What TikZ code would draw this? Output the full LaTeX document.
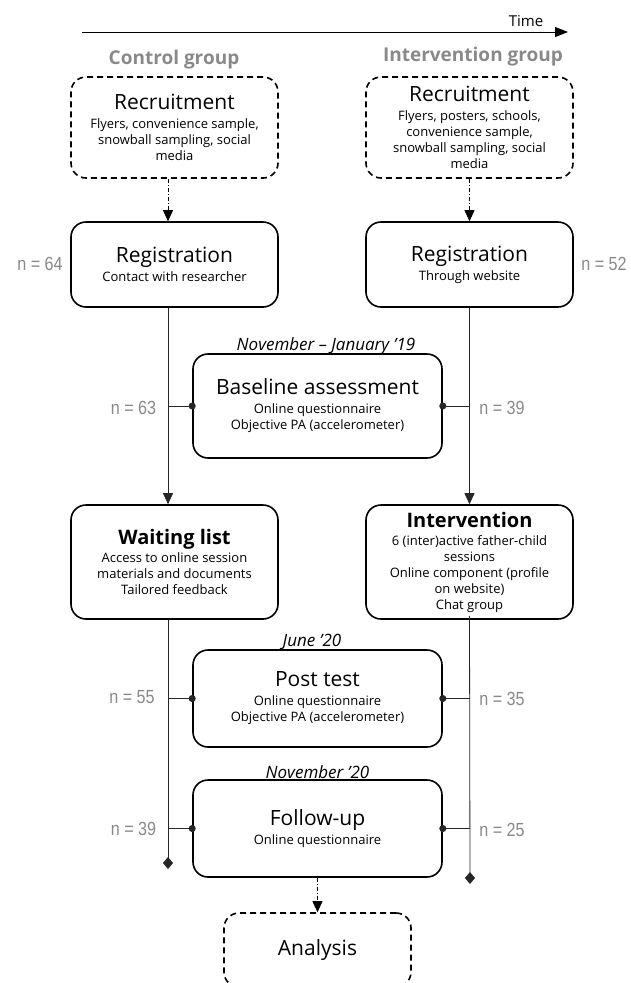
\documentclass[tikz,border=0pt]{standalone}
\usepackage{fontspec}
\setmainfont{Open Sans}
\newfontfamily\countfont[FakeStretch=0.85]{Liberation Sans}
\usetikzlibrary{arrows.meta}
\definecolor{groupgray}{RGB}{137,137,137}

\newcommand{\headline}[1]{{\fontsize{21}{25}\selectfont #1}\\[3pt]}
\newcommand{\boldline}[1]{{\fontsize{20}{24}\selectfont\bfseries #1}\\[2pt]}

\begin{document}
\begin{tikzpicture}[x=1pt,y=-1pt,
    stage/.style={draw, rounded corners=15pt, line width=1.6pt, align=center,
      inner sep=0pt, font=\fontsize{13}{16}\selectfont},
    plan/.style={stage, dash pattern=on 6pt off 4pt},
    group/.style={text=groupgray, font=\fontsize{19}{22}\selectfont\bfseries},
    count/.style={text=groupgray, font=\countfont\fontsize{19}{20}\selectfont},
    date/.style={font=\fontsize{17}{20}\selectfont\itshape},
    link/.style={line width=0.8pt, draw=black!85},
    flow/.style={line width=0.7pt, dash pattern=on 4pt off 2pt on 1pt off 2pt,
      -{Triangle[length=11pt,width=10pt]}},
    tap/.style={link, -{Circle[length=7pt]}, shorten >=-3.5pt}]

  \useasboundingbox (0,0) rectangle (630,983);
  \clip (0,0) rectangle (630,983);

  % headings
  \node[group] (ctrl) at (174,60) {Control group};
  \node[group] (intv) at (473,57) {Intervention group};
  \node[font=\fontsize{15}{18}\selectfont] (time) at (526,21) {Time};
  \coordinate (t0) at (82,32);
  \coordinate (t1) at (568,32);
  \draw[line width=0.9pt, -{Triangle[length=13pt,width=10pt]}] (t0) -- (t1);

  % control group column
  \node[plan, minimum width=207pt, minimum height=101pt] (recC) at (174.5,127.5)
    {\headline{Recruitment}Flyers, convenience sample,\\ snowball sampling, social\\ media};
  \node[stage, minimum width=207pt, minimum height=85pt] (regC) at (174.5,264.5)
    {\headline{Registration}Contact with researcher};
  \node[stage, minimum width=207pt, minimum height=114pt] (waitC) at (174.5,562)
    {\boldline{Waiting list}Access to online session\\ materials and documents\\ Tailored feedback};

  % intervention group column
  \node[plan, minimum width=207pt, minimum height=101pt] (recI) at (469.5,127.5)
    {\headline{Recruitment}Flyers, posters, schools,\\ convenience sample,\\ snowball sampling, social\\ media};
  \node[stage, minimum width=207pt, minimum height=85pt] (regI) at (469.5,264.5)
    {\headline{Registration}Through website};
  \node[stage, minimum width=207pt, minimum height=114pt] (intI) at (469.5,562)
    {\boldline{Intervention}6 (inter)active father-child\\ sessions\\ Online component (profile\\ on website)\\ Chat group};

  % measurements
  \node[stage, minimum width=249pt, minimum height=104pt] (base) at (317.5,406)
    {\headline{Baseline assessment}Online questionnaire\\ Objective PA (accelerometer)};
  \node[stage, minimum width=249pt, minimum height=97pt] (post) at (317.5,698.5)
    {\headline{Post test}Online questionnaire\\ Objective PA (accelerometer)};
  \node[stage, minimum width=249pt, minimum height=97pt] (follow) at (317.5,828.5)
    {\headline{Follow-up}Online questionnaire};
  \node[plan, minimum width=187pt, minimum height=74pt] (anal) at (317.5,950)
    {{\fontsize{21}{25}\selectfont Analysis}};

  \node[date] (d1) at (326,346) {November -- January '19};
  \node[date] (d2) at (312,642) {June '20};
  \node[date] (d3) at (317.5,772) {November '20};

  % sample sizes
  \node[count] (n64) at (40,264) {n = 64};
  \node[count] (n52) at (604,264) {n = 52};
  \node[count] (n63) at (133.5,408) {n = 63};
  \node[count] (n39i) at (502,408) {n = 39};
  \node[count] (n55) at (132,697) {n = 55};
  \node[count] (n35) at (502,699) {n = 35};
  \node[count] (n39c) at (133.5,829) {n = 39};
  \node[count] (n25) at (502,830) {n = 25};

  \coordinate (jC1) at (168,406);
  \coordinate (jC2) at (168,698.5);
  \coordinate (jC3) at (168,828.5);
  \coordinate (jI1) at (470,406);
  \coordinate (jI2) at (470,698.5);
  \coordinate (jI3) at (470,828.5);
  \coordinate (endC) at (168,869);
  \coordinate (endI) at (470,884);

  % connectors
  \draw[flow] ([xshift=-6.5pt]recC.south) -- ([xshift=-6.5pt]regC.north);
  \draw[flow] (recI) -- (regI);
  \draw[link, -{Triangle[length=11pt,width=10pt]}] ([xshift=-6.5pt]regC.south) -- ([xshift=-6.5pt]waitC.north);
  \draw[link, -{Triangle[length=11pt,width=10pt]}] (regI) -- (intI);
  \draw[link, -{Diamond[length=12pt,width=10pt]}] ([xshift=-6.5pt]waitC.south) -- (endC);
  \draw[link, -{Diamond[length=12pt,width=10pt]}] ([yshift=4pt]intI.south) -- (endI);
  \draw[tap] (jC1) -- (base.west);
  \draw[tap] (jI1) -- (base.east);
  \draw[tap] (jC2) -- (post.west);
  \draw[tap] (jI2) -- (post.east);
  \draw[tap] (jC3) -- (follow.west);
  \draw[tap] (jI3) -- (follow.east);
  \draw[flow] (follow) -- (anal);

\end{tikzpicture}
\end{document}
